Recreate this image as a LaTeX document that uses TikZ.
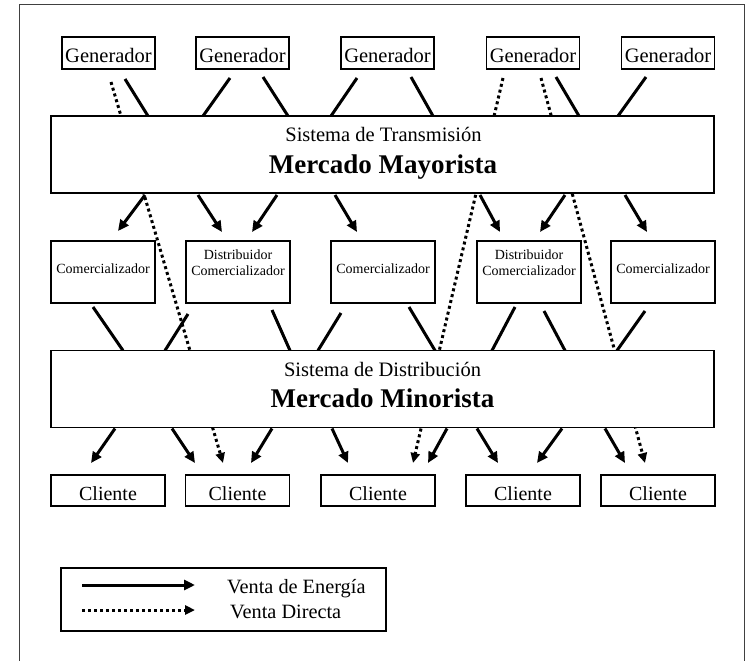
\documentclass[tikz,border=0pt]{standalone}
\usepackage{fontspec}
\setmainfont{Liberation Serif}
\usetikzlibrary{arrows.meta,calc,backgrounds}

\begin{document}
\begin{tikzpicture}[x=1pt,y=-1pt,
  box/.style={draw,line width=1.1pt,fill=white,inner sep=0pt,outer sep=0pt},
  genbox/.style={box,minimum width=93pt,text height=26pt,text depth=6pt,
    font=\fontsize{20.5}{24}\selectfont},
  bigbox/.style={box,minimum width=663pt,minimum height=77pt},
  midbox/.style={box,minimum width=104pt,text height=32pt,text depth=30pt,
    font=\fontsize{14}{16}\selectfont},
  dcbox/.style={midbox,text height=34pt,text depth=28pt},
  clbox/.style={box,minimum width=114pt,text height=25.5pt,text depth=5.5pt,
    font=\fontsize{20}{24}\selectfont},
  subtitle/.style={anchor=base,inner sep=0pt,font=\fontsize{20.5}{24}\selectfont},
  title/.style={anchor=base,inner sep=0pt,font=\fontsize{27}{32}\selectfont\bfseries},
  legtext/.style={anchor=base west,inner sep=0pt,font=\fontsize{20.3}{24}\selectfont},
  energy/.style={line width=3pt},
  sale/.style={energy,-{Triangle[length=11pt,width=10pt]}},
  direct/.style={line width=3pt,dash pattern=on 3pt off 3pt,
    -{Triangle[length=10pt,width=9pt]}},
  frame/.style={line width=1pt,black!75}
]
\useasboundingbox (0,0) rectangle (747,661);

% outer frame (open at the bottom)
\draw[frame] (19,661) -- (19,5) -- (744,5) -- (744,661);

% generators
\node[genbox] (g1) at (108.5,53) {Generador};
\node[genbox] (g2) at (242.5,53) {Generador};
\node[genbox] (g3) at (387.5,53) {Generador};
\node[genbox] (g4) at (533,53)   {Generador};
\node[genbox] (g5) at (668,53)   {Generador};

% wholesale market
\node[bigbox] (tm) at (382.5,154.5) {};
\node[subtitle] (tmsub) at ($(tm.north)+(1,25)$) {Sistema de Transmisión};
\node[title] (tmname) at ($(tm.north)+(0.5,57)$) {Mercado Mayorista};

% traders and distributors
\node[midbox] (c1)  at (103,272) {Comercializador};
\node[dcbox]  (dc1) at (238,272) {\begin{tabular}[b]{@{}c@{}}Distribuidor\\Comercializador\end{tabular}};
\node[midbox] (c2)  at (383,272) {Comercializador};
\node[dcbox]  (dc2) at (529,272) {\begin{tabular}[b]{@{}c@{}}Distribuidor\\Comercializador\end{tabular}};
\node[midbox] (c3)  at (663,272) {Comercializador};

% retail market
\node[bigbox] (dm) at (382.5,389) {};
\node[subtitle] (dmsub) at ($(dm.north)+(0,26)$) {Sistema de Distribución};
\node[title] (dmname) at ($(dm.north)+(0,57)$) {Mercado Minorista};

% customers
\node[clbox] (cl1) at (108,490.5) {Cliente};
\node[clbox,minimum width=104pt] (cl2) at (237.5,490.5) {Cliente};
\node[clbox] (cl3) at (378,490.5) {Cliente};
\node[clbox] (cl4) at (523,490.5) {Cliente};
\node[clbox] (cl5) at (658,490.5) {Cliente};

\begin{pgfonlayer}{background}
  % direct sales, passing behind the markets
  \draw[direct] ($(g1.south)+(2.5,13)$) -- ($(cl2.north)+(-14.5,-12)$);
  \draw[direct] ($(g4.south)+(-30,9)$) -- ($(cl3.north)+(35,-12)$);
  \draw[direct] ($(g4.south)+(8,9)$)   -- ($(cl5.north)+(-13,-12)$);

  % generators into the wholesale market
  \draw[energy] ($(g1.south)+(16.5,10)$) -- ($(tm.north west)+(97,0)$);
  \draw[energy] ($(g2.south)+(-12.5,9)$) -- ($(tm.north west)+(152,0)$);
  \draw[energy] ($(g2.south)+(20.5,8)$)  -- ($(tm.north west)+(237,0)$);
  \draw[energy] ($(g3.south)+(-30.5,9)$) -- ($(tm.north west)+(280,0)$);
  \draw[energy] ($(g3.south)+(23.5,8)$)  -- ($(tm.north west)+(382,0)$);
  \draw[energy] ($(g4.south)+(23,8)$)    -- ($(tm.north west)+(528,0)$);
  \draw[energy] ($(g5.south)+(-22,8)$)   -- ($(tm.north west)+(567,0)$);

  % wholesale market to traders
  \draw[sale] ($(tm.south west)+(94,2)$)  -- ($(c1.north)+(15,-10)$);
  \draw[sale] ($(tm.south west)+(147,2)$) -- ($(dc1.north)+(-16,-9)$);
  \draw[sale] ($(tm.south west)+(226,2)$) -- ($(dc1.north)+(14,-9)$);
  \draw[sale] ($(tm.south west)+(284,2)$) -- ($(c2.north)+(-26,-9)$);
  \draw[sale] ($(tm.south west)+(429,2)$) -- ($(dc2.north)+(-29,-9)$);
  \draw[sale] ($(tm.south west)+(514,2)$) -- ($(dc2.north)+(11,-9)$);
  \draw[sale] ($(tm.south west)+(574,2)$) -- ($(c3.north)+(-16,-9)$);

  % traders into the retail market
  \draw[energy] ($(c1.south)+(-10,4)$)  -- ($(dm.north west)+(72,0)$);
  \draw[energy] ($(dc1.south)+(-50,11)$) -- ($(dm.north west)+(114,0)$);
  \draw[energy] ($(dc1.south)+(34,7)$)  -- ($(dm.north west)+(239,0)$);
  \draw[energy] ($(c2.south)+(-42,10)$) -- ($(dm.north west)+(267,0)$);
  \draw[energy] ($(c2.south)+(26,4)$)   -- ($(dm.north west)+(384,0)$);
  \draw[energy] ($(dc2.south)+(-14,4)$) -- ($(dm.north west)+(441,0)$);
  \draw[energy] ($(dc2.south)+(15,8)$)  -- ($(dm.north west)+(514,0)$);
  \draw[energy] ($(c3.south)+(-18,8)$)  -- ($(dm.north west)+(566,0)$);

  % retail market to customers
  \draw[sale] ($(dm.south west)+(64,1)$)  -- ($(cl1.north)+(-17,-12)$);
  \draw[sale] ($(dm.south west)+(121,1)$) -- ($(cl2.north)+(-42.5,-12)$);
  \draw[sale] ($(dm.south west)+(221,1)$) -- ($(cl2.north)+(13.5,-12)$);
  \draw[sale] ($(dm.south west)+(281,1)$) -- ($(cl3.north)+(-30,-12)$);
  \draw[sale] ($(dm.south west)+(396,1)$) -- ($(cl3.north)+(50,-12)$);
  \draw[sale] ($(dm.south west)+(426,1)$) -- ($(cl4.north)+(-25,-12)$);
  \draw[sale] ($(dm.south west)+(511,1)$) -- ($(cl4.north)+(14,-12)$);
  \draw[sale] ($(dm.south west)+(554,1)$) -- ($(cl5.north)+(-33,-12)$);
\end{pgfonlayer}

% legend
\node[box,minimum width=325pt,minimum height=63pt] (leg) at (223.5,599.5) {};
\coordinate (e0) at ($(leg.west)+(21,-14.5)$);
\coordinate (e1) at ($(leg.west)+(134,-14.5)$);
\coordinate (d0) at ($(leg.west)+(21,10.5)$);
\coordinate (d1) at ($(leg.west)+(134,10.5)$);
\draw[sale] (e0) -- (e1);
\draw[direct] (d0) -- (d1);
\node[legtext] (lt1) at ($(leg.west)+(166,-6.5)$) {Venta de Energía};
\node[legtext] (lt2) at ($(leg.west)+(169,18.5)$) {Venta Directa};
\end{tikzpicture}
\end{document}
